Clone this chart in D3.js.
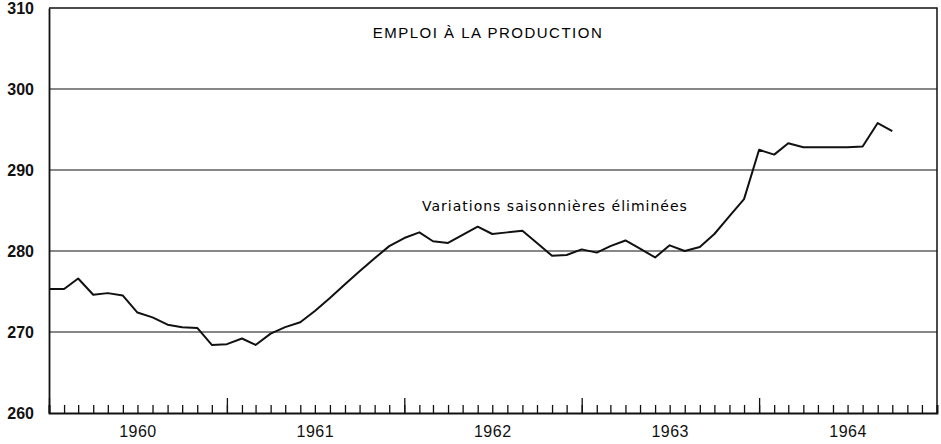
<!DOCTYPE html>
<html>
<head>
<meta charset="utf-8">
<script src="https://cdn.jsdelivr.net/npm/d3@7"></script>
<style>
  body { margin: 0; background: #fff; }
  svg { display: block; }
  .axis text { font-family: "Liberation Sans", Arial, sans-serif; fill: #111; }
  .axis .domain { stroke: #111; }
  .axis line { stroke: #111; }
</style>
</head>
<body>
<svg id="chart" width="941" height="444"></svg>
<script>
// Monthly values, January 1960 to October 1964.
var startMonth = new Date(1960, 0, 1);
var values = [
  // 1960
  275.3, 275.3, 276.6, 274.6, 274.8, 274.5, 272.4, 271.8, 270.9, 270.6, 270.5, 268.4,
  // 1961
  268.5, 269.2, 268.4, 269.8, 270.6, 271.2, 272.6, 274.2, 275.9, 277.5, 279.1, 280.6,
  // 1962
  281.6, 282.3, 281.2, 281.0, 282.0, 283.0, 282.1, 282.3, 282.5, 281.0, 279.4, 279.5,
  // 1963
  280.2, 279.8, 280.6, 281.3, 280.3, 279.2, 280.7, 280.0, 280.5, 282.1, 284.3, 286.4,
  // 1964
  292.5, 291.9, 293.3, 292.8, 292.8, 292.8, 292.8, 292.9, 295.8, 294.8
];
var years = [1960, 1961, 1962, 1963, 1964];
var yTicks = [260, 270, 280, 290, 300, 310];
var gridValues = [270, 280, 290, 300];
var title = 'EMPLOI À LA PRODUCTION';
var note = 'Variations saisonnières éliminées';

var svg = d3.select('#chart');
// Plot area edges, in pixels.
var plotLeft = 49, plotRight = 937, plotTop = 8, plotBottom = 413;

var data = values.map(function(v, i) {
  return { date: d3.timeMonth.offset(startMonth, i), value: v };
});

var x = d3.scaleTime()
  .domain([new Date(1960, 0, 1), new Date(1965, 0, 1)])
  .range([plotLeft, plotRight]);
var y = d3.scaleLinear()
  .domain([260, 310])
  .range([plotBottom, plotTop]);

// Horizontal grid lines.
svg.append('g')
  .selectAll('line')
  .data(gridValues)
  .enter().append('line')
    .attr('x1', plotLeft)
    .attr('x2', plotRight)
    .attr('y1', function(d) { return y(d); })
    .attr('y2', function(d) { return y(d); })
    .attr('stroke', '#111')
    .attr('stroke-width', 1.1);

// Frame: top and right sides.
svg.append('path')
  .attr('d', 'M' + plotLeft + ',' + y(310) + 'H' + plotRight + 'V' + plotBottom)
  .attr('fill', 'none')
  .attr('stroke', '#111')
  .attr('stroke-width', 1.5);

// Left axis with labels.
var yAxis = svg.append('g')
  .attr('class', 'axis')
  .attr('transform', 'translate(' + plotLeft + ',0)')
  .call(d3.axisLeft(y).tickValues(yTicks).tickSize(0).tickPadding(15));
yAxis.select('.domain').attr('stroke-width', 1.8);
yAxis.selectAll('text')
  .style('font-size', '16px')
  .style('font-weight', 'bold');

// Monthly ticks pointing up from the base line.
var monthAxis = svg.append('g')
  .attr('class', 'axis')
  .attr('transform', 'translate(0,' + plotBottom + ')')
  .call(d3.axisBottom(x)
    .ticks(d3.timeMonth.every(1))
    .tickSize(-8)
    .tickFormat(''));
monthAxis.select('.domain').attr('stroke-width', 1.8);
monthAxis.selectAll('line').attr('stroke-width', 1.3);

// Taller ticks at the start of each year.
var yearAxis = svg.append('g')
  .attr('class', 'axis')
  .attr('transform', 'translate(0,' + plotBottom + ')')
  .call(d3.axisBottom(x)
    .tickValues(years.map(function(yr) { return new Date(yr, 0, 1); }))
    .tickSize(-15)
    .tickFormat(''));
yearAxis.select('.domain').remove();
yearAxis.selectAll('line').attr('stroke-width', 1.3);

// Year labels in the middle of each year.
var labelAxis = svg.append('g')
  .attr('class', 'axis')
  .attr('transform', 'translate(0,' + plotBottom + ')')
  .call(d3.axisBottom(x)
    .tickValues(years.map(function(yr) { return new Date(yr, 6, 1); }))
    .tickSize(0)
    .tickPadding(13)
    .tickFormat(d3.timeFormat('%Y')));
labelAxis.select('.domain').remove();
labelAxis.selectAll('text')
  .style('font-size', '16px')
  .style('letter-spacing', '0.5px');

// The series line.
var line = d3.line()
  .x(function(d) { return x(d.date); })
  .y(function(d) { return y(d.value); });
svg.append('path')
  .datum(data)
  .attr('d', line)
  .attr('fill', 'none')
  .attr('stroke', '#111')
  .attr('stroke-width', 2)
  .attr('stroke-linejoin', 'round');

// Title and note.
svg.append('text')
  .attr('x', 488)
  .attr('y', 38)
  .attr('text-anchor', 'middle')
  .style('font-family', '"Liberation Sans", Arial, sans-serif')
  .style('font-size', '15px')
  .style('letter-spacing', '1.5px')
  .text(title);

svg.append('text')
  .attr('x', 422)
  .attr('y', 211)
  .style('font-family', '"DejaVu Sans", sans-serif')
  .style('font-size', '14px')
  .style('letter-spacing', '1px')
  .text(note);
</script>
</body>
</html>
